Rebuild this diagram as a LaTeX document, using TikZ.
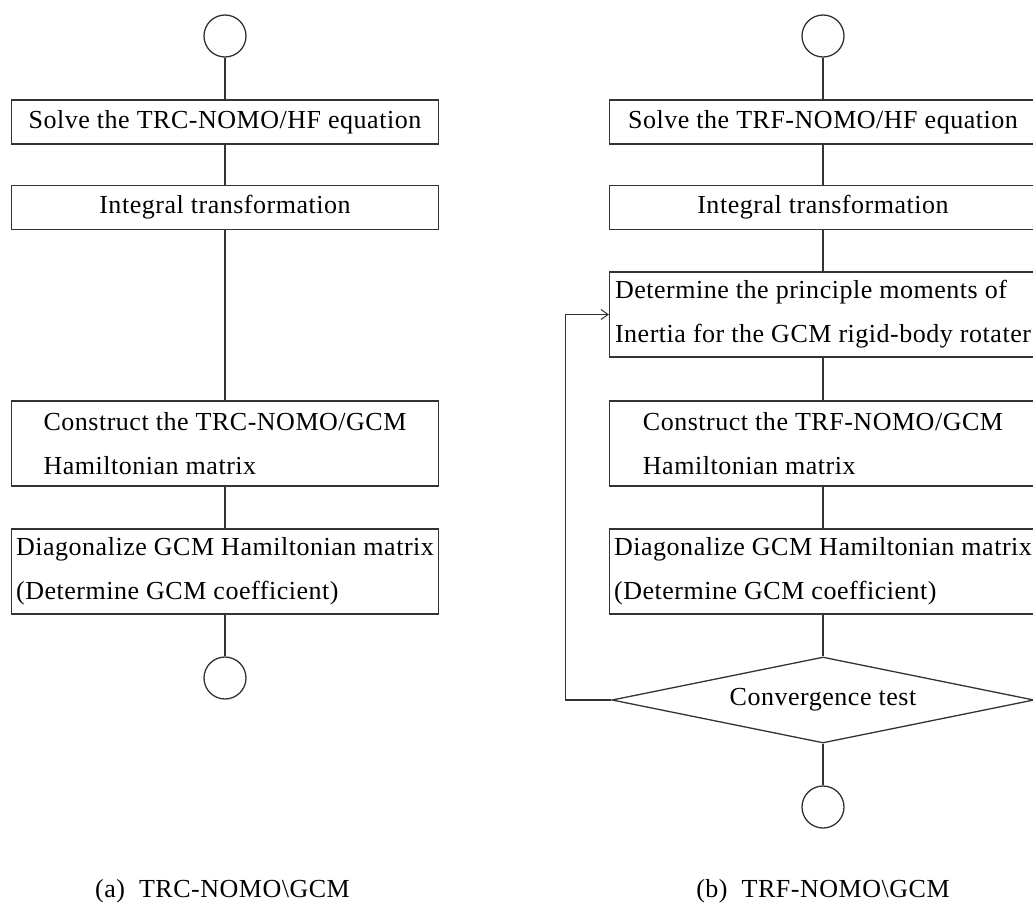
\documentclass[tikz,border=0pt]{standalone}
\usepackage{fontspec}
\newfontfamily\flowfont{Liberation Serif}[LetterSpace=2]
\usepackage{tikz}
\usetikzlibrary{shapes.geometric}
\usetikzlibrary{arrows.meta}
\tikzset{proc/.style={draw=black!80, line width=1.3pt, minimum width=427pt, minimum height=44pt, inner sep=0pt, align=left, font=\flowfont\fontsize{26}{44}\selectfont}}
\tikzset{proctwo/.style={proc, minimum height=85pt}}
\tikzset{term/.style={draw=black!80, line width=1.3pt, circle, minimum size=42pt, inner sep=0pt}}
\tikzset{test/.style={draw=black!80, line width=1.3pt, diamond, aspect=4.9, minimum width=422pt, minimum height=86pt, inner sep=0pt, font=\flowfont\fontsize{26}{30}\selectfont}}
\tikzset{link/.style={draw=black!80, line width=1.3pt}}

\begin{document}
\begin{tikzpicture}[x=1pt,y=-1pt]
\useasboundingbox (0,0) rectangle (1033,907);
% (a) TRC-NOMO
\node[term] (startA) at (225,36) {};
\node[proc] (solveA) at (225,122) {Solve the TRC-NOMO/HF equation};
\node[proc] (integA) at (225,207.5) {Integral transformation};
\node[proctwo] (constA) at (225,443.5) {Construct the TRC-NOMO/GCM\\Hamiltonian matrix};
\node[proctwo] (diagA) at (225,571.5) {Diagonalize GCM Hamiltonian matrix\\(Determine GCM coefficient)};
\node[term] (endA) at (225,678) {};
\draw[link] (startA) -- (solveA);
\draw[link] (solveA) -- (integA);
\draw[link] (integA) -- (constA);
\draw[link] (constA) -- (diagA);
\draw[link] (diagA) -- (endA);
% (b) TRF-NOMO
\node[term] (startB) at (823,36) {};
\node[proc] (solveB) at (823,122) {Solve the TRF-NOMO/HF equation};
\node[proc] (integB) at (823,207.5) {Integral transformation};
\node[proctwo] (momB) at (823,314.5) {Determine the principle moments of\\Inertia for the GCM rigid-body rotater};
\node[proctwo] (constB) at (823,443.5) {Construct the TRF-NOMO/GCM\\Hamiltonian matrix};
\node[proctwo] (diagB) at (823,571.5) {Diagonalize GCM Hamiltonian matrix\\(Determine GCM coefficient)};
\node[test] (convB) at (823,700) {Convergence test};
\node[term] (endB) at (823,807) {};
\draw[link] (startB) -- (solveB);
\draw[link] (solveB) -- (integB);
\draw[link] (integB) -- (momB);
\draw[link] (momB) -- (constB);
\draw[link] (constB) -- (diagB);
\draw[link] (diagB) -- (convB);
\draw[link] (convB) -- (endB);
\draw[link,-{Straight Barb[length=7pt,width=10pt,line width=1pt]}] (convB.west) -- ++(-46,0) |- (momB.west);
% captions
\node[font=\flowfont\fontsize{26}{30}\selectfont] (capA) at (222.5,891) {(a)\ \ TRC-NOMO\textbackslash GCM};
\node[font=\flowfont\fontsize{26}{30}\selectfont] (capB) at (823,891) {(b)\ \ TRF-NOMO\textbackslash GCM};
\end{tikzpicture}
\end{document}
